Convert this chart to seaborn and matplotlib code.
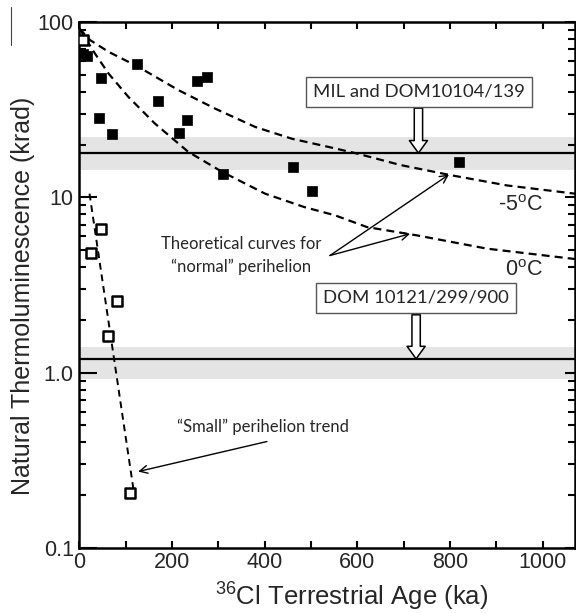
import numpy as np
import matplotlib
matplotlib.use("Agg")
import matplotlib.pyplot as plt
from matplotlib.lines import Line2D
from matplotlib.patches import FancyArrowPatch
from matplotlib.ticker import LogLocator, MultipleLocator, NullFormatter
import seaborn as sns

# --- data (age in ka, TL in krad) ---
normal_age = [8, 17, 47, 125, 169, 43, 70, 216, 232, 255, 276, 311, 461, 503, 819]
normal_tl = [66, 64, 47.7, 58, 35.5, 28.4, 22.9, 23.3, 27.5, 46.0, 48.6, 13.6, 14.9, 10.9, 15.9]

small_age = [7, 47, 25, 81, 62, 110]
small_tl = [79, 6.6, 4.8, 2.55, 1.63, 0.207]

# theoretical curves
m5_age = [0, 23, 63, 127, 214, 293, 380, 459, 538, 599, 693, 801, 923, 1070]
m5_tl = [92, 79, 67.7, 55.6, 40.9, 32.1, 25.2, 21.6, 19.4, 17.8, 15.3, 13.4, 11.7, 10.5]
z0_age = [0, 34, 63, 106, 163, 235, 308, 401, 486, 552, 621, 729, 880, 1070]
z0_tl = [92, 66, 50.9, 37.4, 26.4, 18.2, 14.0, 10.5, 8.8, 7.9, 6.77, 6.07, 5.1, 4.45]

# "small" perihelion trend
trend_age = [22, 120]
trend_tl = [10.5, 0.19]

# reference levels: (line, band low, band high)
mil_level = (17.9, 14.4, 22.1)
dom_level = (1.20, 0.92, 1.41)

ytick_vals = [0.1, 1, 10, 100]
ytick_labels = ["0.1", "1.0", "10", "100"]
xtick_vals = [0, 200, 400, 600, 800, 1000]

sns.set_style("ticks")
plt.rcParams["font.family"] = ["Liberation Sans", "DejaVu Sans"]
plt.rcParams["mathtext.fontset"] = "custom"
plt.rcParams["mathtext.rm"] = "Liberation Sans"
plt.rcParams["mathtext.it"] = "Liberation Sans:italic"
plt.rcParams["mathtext.bf"] = "Liberation Sans:bold"

fig = plt.figure(figsize=(5.76, 6.13), dpi=100)
ax = fig.add_axes([0.1377, 0.106, 0.8606, 0.858])

# bands and lines
for lvl in (mil_level, dom_level):
    ax.axhspan(lvl[1], lvl[2], color="#e4e4e4", lw=0, zorder=0)
    ax.axhline(lvl[0], color="black", lw=1.6, zorder=1)

dash = (0, (3.6, 2.3))
sns.lineplot(x=m5_age, y=m5_tl, color="black", lw=1.6, linestyle=dash,
             estimator=None, ax=ax, zorder=2)
sns.lineplot(x=z0_age, y=z0_tl, color="black", lw=1.6, linestyle=dash,
             estimator=None, ax=ax, zorder=2)
sns.lineplot(x=trend_age, y=trend_tl, color="black", lw=1.4,
             linestyle=(0, (3.5, 2.5)), estimator=None, ax=ax, zorder=2)

sns.scatterplot(x=small_age, y=small_tl, marker="s", s=55, facecolor="white",
                edgecolor="black", linewidth=1.8, ax=ax, zorder=3)
sns.scatterplot(x=normal_age, y=normal_tl, marker="s", s=62, color="black",
                edgecolor="black", linewidth=0.5, ax=ax, zorder=4)

ax.set_yscale("log")
ax.set_xlim(0, 1070)
ax.set_ylim(0.1, 100)
ax.set_xticks(xtick_vals)
ax.xaxis.set_minor_locator(MultipleLocator(100))
ax.set_yticks(ytick_vals, labels=ytick_labels)
ax.yaxis.set_minor_locator(LogLocator(base=10, subs=np.arange(2, 10)))
ax.yaxis.set_minor_formatter(NullFormatter())

ax.tick_params(axis="both", which="both", direction="in", top=True, right=True,
               labelsize=15.5, width=1.5, color="black")
ax.tick_params(axis="x", which="both", length=5, pad=3)
ax.tick_params(axis="y", which="major", length=13, pad=4)
ax.tick_params(axis="y", which="minor", length=5)
for t in ax.yaxis.get_major_ticks():
    t.tick2line.set_markersize(7)
for sp in ax.spines.values():
    sp.set_linewidth(1.8)
    sp.set_color("black")

ax.set_xlabel("$^{36}$Cl Terrestrial Age (ka)", fontsize=18.5)
ax.set_ylabel("Natural Thermoluminescence (krad)", fontsize=18)
ax.xaxis.set_label_coords(0.549, -0.062)
ax.yaxis.set_label_coords(-0.089, 0.48)

# thin stray rule at the top left of the original figure
fig.add_artist(Line2D([11 / 576, 11 / 576], [1 - 7 / 613, 1 - 45 / 613],
                      color="#444444", lw=0.8))

# boxes with hollow arrows
box = dict(boxstyle="square,pad=0.38", fc="white", ec="#555555", lw=1)
ax.text(734, 40.1, "MIL and DOM10104/139", fontsize=13.3, family="Lato",
        ha="center", va="center", bbox=box, zorder=6)
ax.text(727, 2.68, "DOM 10121/299/900", fontsize=13.3, family="Lato",
        ha="center", va="center", bbox=box, zorder=6)
for xa, y0, y1 in [(732, 32.3, mil_level[0]), (727, 2.14, dom_level[0])]:
    arr = FancyArrowPatch((xa, y0), (xa, y1), mutation_scale=10,
                          arrowstyle="simple,head_length=0.9,head_width=1.3,tail_width=0.6",
                          fc="white", ec="black", lw=1.1, shrinkA=0, shrinkB=0, zorder=5)
    ax.add_patch(arr)

# annotations
ax.text(349, 4.66, "Theoretical curves for\n\u201cnormal\u201d perihelion", fontsize=12,
        family="Lato", ha="center", va="center", linespacing=1.45, zorder=6)
for tip in [(798, 13.5), (714, 6.2)]:
    ax.annotate("", xy=tip, xytext=(541, 4.66),
                arrowprops=dict(arrowstyle="->", color="black", lw=1,
                                shrinkA=0, shrinkB=0, mutation_scale=14))
ax.text(397, 0.493, "\u201cSmall\u201d perihelion trend", fontsize=12,
        family="Lato", ha="center", va="center", zorder=6)
ax.annotate("", xy=(127, 0.273), xytext=(405, 0.405),
            arrowprops=dict(arrowstyle="->", color="black", lw=1,
                            shrinkA=0, shrinkB=0, mutation_scale=14))

ax.text(1001, 9.0, "-5$^{\\mathrm{o}}$C", fontsize=15.5, ha="right", va="center")
ax.text(1001, 3.83, "0$^{\\mathrm{o}}$C", fontsize=15.5, ha="right", va="center")

fig.savefig("out.png", dpi=100)
